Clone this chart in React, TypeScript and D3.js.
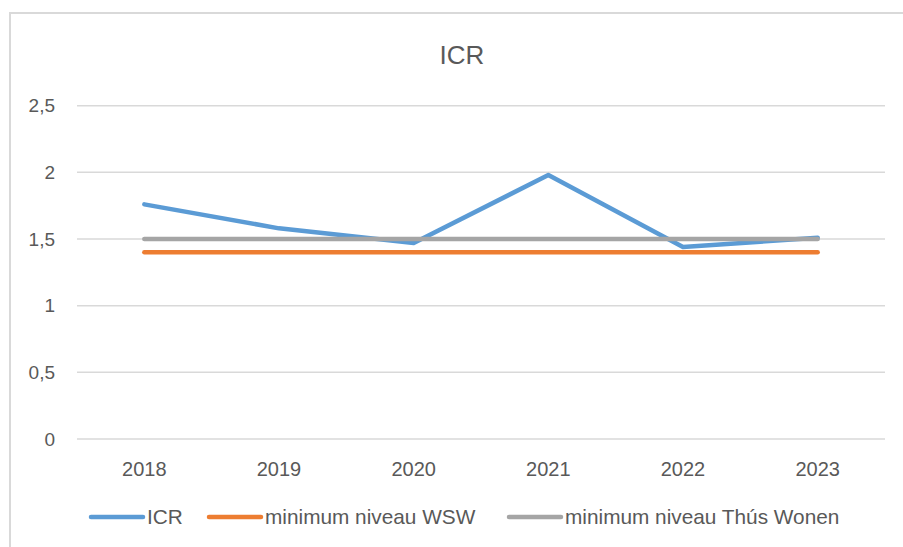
import { useMemo } from "react";
import * as d3 from "d3";

const YEARS = ["2018", "2019", "2020", "2021", "2022", "2023"];
const ICR = [1.76, 1.58, 1.47, 1.98, 1.44, 1.51];
const MIN_WSW = [1.4, 1.4, 1.4, 1.4, 1.4, 1.4];
const MIN_THUS = [1.5, 1.5, 1.5, 1.5, 1.5, 1.5];
const Y_TICKS = [0, 0.5, 1, 1.5, 2, 2.5];

const SERIES = [
  { name: "ICR", values: ICR, color: "#5b9bd5" },
  { name: "minimum niveau WSW", values: MIN_WSW, color: "#ed7d31" },
  { name: "minimum niveau Thús Wonen", values: MIN_THUS, color: "#a5a5a5" },
];

const WIDTH = 903;
const HEIGHT = 547;
const FONT = "'Liberation Sans', Arial, sans-serif";
const TEXT = "#595959";

export default function App() {
  const plot = { left: 77, right: 885, top: 105.7, bottom: 439 };

  const x = useMemo(
    () => d3.scaleBand<string>().domain(YEARS).range([plot.left, plot.right]),
    []
  );
  const y = useMemo(
    () => d3.scaleLinear().domain([0, 2.5]).range([plot.bottom, plot.top]),
    []
  );

  const line = d3
    .line<number>()
    .x((_d, i) => (x(YEARS[i]) ?? 0) + x.bandwidth() / 2)
    .y((d) => y(d));

  const fmt = (v: number) => String(v).replace(".", ",");

  // legend item start positions (line start), text follows the swatch
  const legendX = [91, 209, 509];
  const legendY = 517;

  return (
    <svg
      width={WIDTH}
      height={HEIGHT}
      style={{ position: "absolute", left: 0, top: 0, display: "block", background: "#fff" }}
      fontFamily={FONT}
    >
      <rect x={0} y={0} width={WIDTH} height={HEIGHT} fill="#fff" />
      {/* chart area border (right/bottom clipped by the screenshot) */}
      <path d={`M10,${HEIGHT + 5} V13 H${WIDTH + 5}`} fill="none" stroke="#d9d9d9" strokeWidth={2} />

      <text x={462} y={64} textAnchor="middle" fontSize={26} fill={TEXT}>
        ICR
      </text>

      {Y_TICKS.map((t) => (
        <g key={t}>
          <line x1={plot.left} x2={plot.right} y1={y(t)} y2={y(t)} stroke="#d9d9d9" strokeWidth={1.5} />
          <text x={55} y={y(t)} dy="0.35em" textAnchor="end" fontSize={19} fill={TEXT}>
            {fmt(t)}
          </text>
        </g>
      ))}

      {YEARS.map((yr) => (
        <text
          key={yr}
          x={(x(yr) ?? 0) + x.bandwidth() / 2}
          y={476}
          textAnchor="middle"
          fontSize={20}
          fill={TEXT}
        >
          {yr}
        </text>
      ))}

      {SERIES.map((s) => (
        <path
          key={s.name}
          d={line(s.values) ?? ""}
          fill="none"
          stroke={s.color}
          strokeWidth={4.5}
          strokeLinecap="round"
          strokeLinejoin="round"
        />
      ))}

      {SERIES.map((s, i) => (
        <g key={s.name} transform={`translate(${legendX[i]},${legendY})`}>
          <line x1={0} x2={52} y1={0} y2={0} stroke={s.color} strokeWidth={4.5} strokeLinecap="round" />
          <text x={56} y={0} dy="0.35em" fontSize={20.8} fill={TEXT}>
            {s.name}
          </text>
        </g>
      ))}
    </svg>
  );
}
